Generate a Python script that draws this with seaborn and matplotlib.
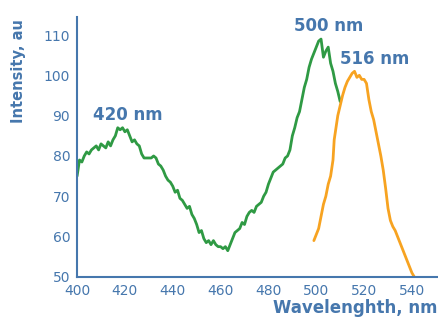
import numpy as np
import pandas as pd
import matplotlib
matplotlib.use('Agg')
import matplotlib.pyplot as plt
import seaborn as sns

# Excitation (green) spectrum
ex_wl = [400, 401, 402, 403, 404, 405, 406, 407, 408, 409, 410, 411, 412, 413, 414, 415,
         416, 417, 418, 419, 420, 421, 422, 423, 424, 425, 426, 427, 428, 429, 430, 431,
         432, 433, 434, 435, 436, 437, 438, 439, 440, 441, 442, 443, 444, 445, 446, 447,
         448, 449, 450, 451, 452, 453, 454, 455, 456, 457, 458, 459, 460, 461, 462, 463,
         464, 465, 466, 467, 468, 469, 470, 471, 472, 473, 474, 475, 476, 477, 478, 479,
         480, 481, 482, 483, 484, 485, 486, 487, 488, 489, 490, 491, 492, 493, 494, 495,
         496, 497, 498, 499, 500, 501, 502, 503, 504, 505, 506, 507, 508, 509, 510]
ex_int = [75, 79, 78.5, 80, 81, 80.5, 81.5, 82, 82.5, 81.5, 83, 82.5, 82, 83.5, 82.5, 84,
          85, 87, 86.5, 87, 86, 86.5, 85, 83.5, 84, 83, 82.5, 80.5, 79.5, 79.5, 79.5, 79.5,
          80, 79.5, 78, 77.5, 76.5, 75, 74, 73.5, 72.5, 71, 71.5, 69.5, 69, 68, 67, 67.5,
          65.5, 64.5, 63, 61, 61.5, 59.5, 58.5, 59, 58, 59, 58, 57.5, 57.5, 57, 57.5, 56.5,
          58, 59.5, 61, 61.5, 62, 63.5, 63, 65, 66, 66.5, 66, 67.5, 68, 68.5, 70, 71,
          73, 74.5, 76, 76.5, 77, 77.5, 78, 79.5, 80, 81.5, 85, 87, 89.5, 91, 94, 97,
          99, 102, 104, 105.5, 107, 108.5, 109, 104.5, 106, 107, 103, 101, 98, 96, 93.5]

# Emission (orange) spectrum
em_wl = [499, 500, 501, 502, 503, 504, 505, 506, 507, 507.5, 508, 509, 510, 511, 512, 513,
         514, 515, 516, 517, 518, 519, 520, 521, 522, 523, 524, 525, 526, 527, 528, 529,
         530, 531, 532, 533, 534, 535, 536, 537, 538, 539, 540, 541]
em_int = [59, 60.5, 62, 65, 68, 70, 73, 75, 79, 84, 86, 90, 92.5, 95, 97, 98.5,
          99.5, 100.5, 101, 99.5, 100, 99, 99, 98, 94, 91, 89, 86, 83, 80, 76.5, 72,
          67, 64, 62.5, 61.5, 60, 58.5, 57, 55.5, 54, 52.5, 51, 50]

peak_labels = ['420 nm', '500 nm', '516 nm']
peak_x = [421.3, 505.4, 524.6]
peak_y = [88.9, 111.1, 102.7]

blue = '#4677ad'
sns.set_style('white')
plt.rcParams['font.family'] = ['DejaVu Sans']

fig = plt.figure(figsize=(4.38, 3.25), dpi=100)
ax = fig.add_axes([0.176, 0.148, 0.83, 0.8])

ex = pd.DataFrame({'wl': ex_wl, 'val': ex_int})
em = pd.DataFrame({'wl': em_wl, 'val': em_int})
sns.lineplot(data=ex, x='wl', y='val', color='#2f9a44', linewidth=2, ax=ax)
sns.lineplot(data=em, x='wl', y='val', color='#f7a321', linewidth=2, ax=ax)

for t, x, y in zip(peak_labels, peak_x, peak_y):
    ax.text(x, y, t, ha='center', va='baseline', color=blue, fontsize=12, fontweight='bold')

ax.set_xlim(400, 552)
ax.set_ylim(50, 114.5)
ax.set_xticks(range(400, 541, 20))
ax.set_yticks(range(50, 111, 10))
for s in ['top', 'right']:
    ax.spines[s].set_visible(False)
for s in ['left', 'bottom']:
    ax.spines[s].set_color(blue)
    ax.spines[s].set_linewidth(1.5)
ax.tick_params(axis='both', colors=blue, direction='out', length=3, width=1.2,
               labelsize=10, pad=2)

ax.set_ylabel('Intensity, au', color=blue, fontsize=10.5, fontweight='bold', loc='top')
ax.set_xlabel('Wavelenghth, nm', color=blue, fontsize=12, fontweight='bold')
ax.xaxis.set_label_coords(0.538, -0.085)
ax.xaxis.label.set_ha('left')
ax.xaxis.label.set_va('top')
ax.yaxis.set_label_coords(-0.14, 0.99)

fig.savefig('out.png', dpi=100)
